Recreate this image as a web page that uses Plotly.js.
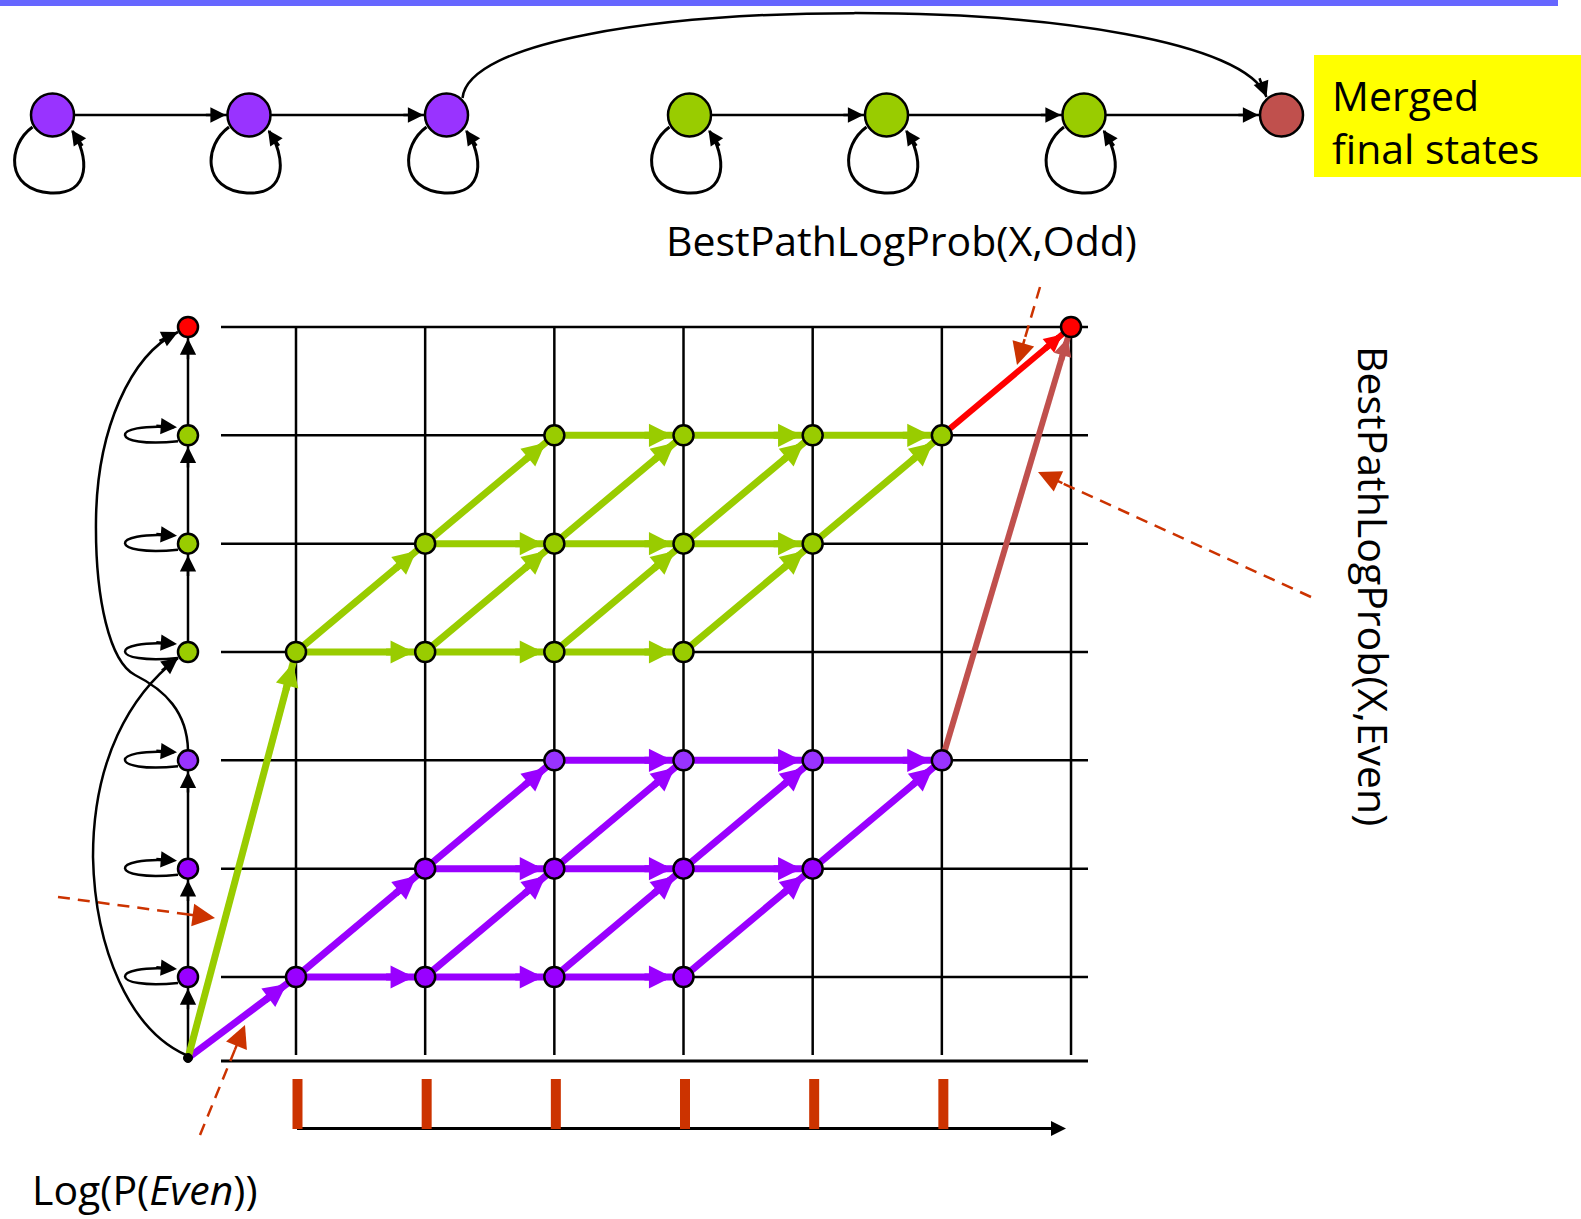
<!DOCTYPE html>
<html><head><meta charset="utf-8">
<script src="https://cdn.plot.ly/plotly-3.0.1.min.js"></script>
<style>html,body{margin:0;padding:0;background:#fff}#chart{width:1581px;height:1219px}</style>
</head><body><div id="chart"></div>
<script>
// ================= DATA =================
// Trellis: frames (time steps) and states (1-3 = Even HMM, 4-6 = Odd HMM, 7 = merged final state)
const frames = [1, 2, 3, 4, 5, 6, 7];
const trellisStates = [1, 2, 3, 4, 5, 6, 7];
const evenNodeFrames = [1, 2, 3, 4, 2, 3, 4, 5, 3, 4, 5, 6];
const evenNodeStates = [1, 1, 1, 1, 2, 2, 2, 2, 3, 3, 3, 3];
const oddNodeFrames = [1, 2, 3, 4, 2, 3, 4, 5, 3, 4, 5, 6];
const oddNodeStates = [4, 4, 4, 4, 5, 5, 5, 5, 6, 6, 6, 6];
const finalNodeFrames = [7];
const finalNodeStates = [7];
// Edges: [fromFrame, fromState, toFrame, toState]; frame 0 / state 0 = start node
const evenEdges = [
  [0, 0, 1, 1],
  [1, 1, 2, 1], [2, 1, 3, 1], [3, 1, 4, 1],
  [1, 1, 2, 2], [2, 1, 3, 2], [3, 1, 4, 2], [4, 1, 5, 2],
  [2, 2, 3, 2], [3, 2, 4, 2], [4, 2, 5, 2],
  [2, 2, 3, 3], [3, 2, 4, 3], [4, 2, 5, 3], [5, 2, 6, 3],
  [3, 3, 4, 3], [4, 3, 5, 3], [5, 3, 6, 3]
];
const oddEdges = [
  [0, 0, 1, 4],
  [1, 4, 2, 4], [2, 4, 3, 4], [3, 4, 4, 4],
  [1, 4, 2, 5], [2, 4, 3, 5], [3, 4, 4, 5], [4, 4, 5, 5],
  [2, 5, 3, 5], [3, 5, 4, 5], [4, 5, 5, 5],
  [2, 5, 3, 6], [3, 5, 4, 6], [4, 5, 5, 6], [5, 5, 6, 6],
  [3, 6, 4, 6], [4, 6, 5, 6], [5, 6, 6, 6]
];
const oddExitEdges = [[6, 6, 7, 7]];
const evenExitEdges = [[6, 3, 7, 7]];
// Left state column (the combined HMM drawn vertically)
const columnStates = [1, 2, 3, 4, 5, 6, 7];
const columnSteps = [[0, 1], [1, 2], [2, 3], [4, 5], [5, 6], [6, 7]];
const columnLoops = [1, 2, 3, 4, 5, 6];
// Observation frames (bottom bars)
const obsFrames = [1, 2, 3, 4, 5, 6];
// Top HMM diagram
const hmmNames = ['E1', 'E2', 'E3', 'O1', 'O2', 'O3', 'F'];
const hmmKinds = ['even', 'even', 'even', 'odd', 'odd', 'odd', 'final'];
const hmmEdges = [[0, 1], [1, 2], [3, 4], [4, 5], [5, 6]];
const hmmLoops = [0, 1, 2, 3, 4, 5];
// Labels
const labelMerged = 'Merged<br>final states';
const labelOdd = 'BestPathLogProb(X,Odd)';
const labelEven = 'BestPathLogProb(X,Even)';
const labelPrior = 'Log(P(<i>Even</i>))';

// ================= LAYOUT GEOMETRY / STYLE =================
const W = 1581, H = 1219;
const PX_T = 129.17, PX_S = 108.333, F1_PX = 296, S1_PX = 977;
const tOf = px => 1 + (px - F1_PX) / PX_T;
const sOf = py => 1 + (S1_PX - py) / PX_S;
const STATE_T = tOf(188), START_S = sOf(1058);
const hmmX = [52.5, 249, 446.5, 689.5, 886.5, 1084, 1281.5], HMM_Y = 115;
const C_EVEN = '#9900FF', C_EVEN_L = '#9933FF', C_ODD = '#99CC00', C_FINAL = '#FF0000',
      C_BROWN = '#C0504D', C_ORANGE = '#CC3300';
const FONT = {family: '"Open Sans", "Noto Sans", sans-serif', size: 41, color: '#000'};
const stateColor = s => s <= 2 ? C_EVEN : s === 3 ? C_EVEN_L : s <= 6 ? C_ODD : C_FINAL;
const hmmColor = k => k === 'even' ? C_EVEN_L : k === 'odd' ? C_ODD : C_BROWN;
const pos = (f, s) => f === 0 ? [STATE_T, START_S] : [f, s];

const traces = [];
const shapes = [];
const annotations = [];

function head(xref, yref, x, y, dx, dy, color, width, size, standoff, extra) {
  const scale = width * size;
  const len = standoff + 5 * scale + 6;
  const n = Math.hypot(dx, dy);
  return Object.assign({
    xref, yref, x, y, ax: -dx / n * len, ay: -dy / n * len, axref: 'pixel', ayref: 'pixel',
    showarrow: true, arrowhead: 2, arrowsize: size, arrowwidth: width, arrowcolor: color,
    standoff: standoff, text: ''
  }, extra || {});
}

// ---- grid ----
(function () {
  const x = [], y = [];
  const tL = tOf(221), tR = tOf(1088);
  trellisStates.forEach(s => { x.push(tL, tR, null); y.push(s, s, null); });
  const sB = sOf(1055);
  frames.forEach(f => { x.push(f, f, null); y.push(7, sB, null); });
  traces.push({type: 'scatter', mode: 'lines', x, y, line: {color: '#000', width: 2.5}, hoverinfo: 'skip'});
  traces.push({type: 'scatter', mode: 'lines', x: [tL, tR], y: [sOf(1061), sOf(1061)],
    line: {color: '#000', width: 3}, hoverinfo: 'skip'});
})();

// ---- bottom observation bars and time arrow ----
(function () {
  const x = [], y = [];
  obsFrames.forEach(f => { x.push(f + 1.5 / PX_T, f + 1.5 / PX_T, null); y.push(sOf(1079), sOf(1129), null); });
  traces.push({type: 'scatter', mode: 'lines', x: [tOf(297), tOf(1060)], y: [sOf(1128.5), sOf(1128.5)],
    line: {color: '#000', width: 3}, hoverinfo: 'skip'});
  traces.push({type: 'scatter', mode: 'lines', x, y, line: {color: C_ORANGE, width: 10}, hoverinfo: 'skip'});
  annotations.push(head('x', 'y', tOf(1066), sOf(1128.5), 1, 0, '#000', 3, 1, 0));
})();

// ---- left column transitions ----
(function () {
  const x = [], y = [];
  columnSteps.forEach(([a, b]) => {
    const pa = a === 0 ? [STATE_T, START_S] : [STATE_T, a];
    x.push(pa[0], STATE_T, null); y.push(pa[1], b, null);
    annotations.push(head('x', 'y', STATE_T, b, 0, -(b - pa[1]) * PX_S, '#000', 2.5, 1.3, 11.5));
  });
  traces.push({type: 'scatter', mode: 'lines', x, y, line: {color: '#000', width: 2.5}, hoverinfo: 'skip'});
  columnLoops.forEach(s => {
    shapes.push({type: 'path', xref: 'x', yref: 'y', xsizemode: 'pixel', ysizemode: 'pixel',
      xanchor: STATE_T, yanchor: s, path: 'M -10 -6 C -80 -13, -80 13, -14 8',
      line: {color: '#000', width: 2.5}});
    annotations.push(head('x', 'y', STATE_T, s, 1, 0.08, '#000', 2.5, 1.3, 0, {xshift: -11, yshift: 8}));
  });
})();

// ---- trellis edges ----
function edgeTrace(edges, color, width, size) {
  const x = [], y = [];
  edges.forEach(([f0, s0, f1, s1]) => {
    const a = pos(f0, s0), b = pos(f1, s1);
    x.push(a[0], b[0], null); y.push(a[1], b[1], null);
    annotations.push(head('x', 'y', b[0], b[1], (b[0] - a[0]) * PX_T, -(b[1] - a[1]) * PX_S,
      color, width, size, 11.5));
  });
  traces.push({type: 'scatter', mode: 'lines', x, y, line: {color, width}, hoverinfo: 'skip'});
}
edgeTrace(evenEdges, C_EVEN, 7, 0.66);
edgeTrace(oddEdges, C_ODD, 7, 0.66);
edgeTrace(oddExitEdges, C_FINAL, 6, 0.6);
edgeTrace(evenExitEdges, C_BROWN, 6, 0.6);

// ---- nodes ----
const nodeLine = {color: '#000', width: 2.5};
traces.push({type: 'scatter', mode: 'markers', x: columnStates.map(() => STATE_T), y: columnStates,
  marker: {size: 20, color: columnStates.map(stateColor), line: nodeLine}, hoverinfo: 'skip'});
traces.push({type: 'scatter', mode: 'markers', x: [STATE_T], y: [START_S],
  marker: {size: 9, color: '#000', line: {color: '#000', width: 1}}, hoverinfo: 'skip'});
traces.push({type: 'scatter', mode: 'markers', x: evenNodeFrames, y: evenNodeStates,
  marker: {size: 20, color: evenNodeStates.map(stateColor), line: nodeLine}, hoverinfo: 'skip'});
traces.push({type: 'scatter', mode: 'markers', x: oddNodeFrames, y: oddNodeStates,
  marker: {size: 20, color: oddNodeStates.map(stateColor), line: nodeLine}, hoverinfo: 'skip'});
traces.push({type: 'scatter', mode: 'markers', x: finalNodeFrames, y: finalNodeStates,
  marker: {size: 20, color: C_FINAL, line: nodeLine}, hoverinfo: 'skip'});

// ---- left column skip curves (pixel overlay) ----
shapes.push({type: 'path', xref: 'x2', yref: 'y2',
  path: 'M 188 750 C 187 712, 165 690, 135 675 C 110 662, 95 600, 96 520 C 97 430, 130 355, 178 332',
  line: {color: '#000', width: 2.5}});
annotations.push(head('x2', 'y2', 178, 332, 48, -23, '#000', 2.5, 1.3, 0));
shapes.push({type: 'path', xref: 'x2', yref: 'y2',
  path: 'M 186 1055 C 130 1030, 95 950, 93 857 C 93 760, 130 695, 178 658',
  line: {color: '#000', width: 2.5}});
annotations.push(head('x2', 'y2', 178, 658, 48, -37, '#000', 2.5, 1.3, 0));

// ---- top HMM ----
(function () {
  const x = [], y = [];
  hmmEdges.forEach(([a, b]) => {
    x.push(hmmX[a], hmmX[b], null); y.push(HMM_Y, HMM_Y, null);
    annotations.push(head('x2', 'y2', hmmX[b], HMM_Y, 1, 0, '#000', 2.5, 1.25, 23));
  });
  traces.push({type: 'scatter', mode: 'lines', x, y, xaxis: 'x2', yaxis: 'y2',
    line: {color: '#000', width: 2.5}, hoverinfo: 'skip'});
  hmmLoops.forEach(i => {
    const cx = hmmX[i], cy = HMM_Y;
    shapes.push({type: 'path', xref: 'x2', yref: 'y2',
      path: `M ${cx - 20} ${cy + 12} C ${cx - 45} ${cy + 30}, ${cx - 48} ${cy + 75}, ${cx - 2} ${cy + 78} ` +
            `C ${cx + 40} ${cy + 80}, ${cx + 36} ${cy + 40}, ${cx + 20} ${cy + 16}`,
      line: {color: '#000', width: 3}});
    annotations.push(head('x2', 'y2', cx + 19, cy + 15, -17, -25, '#000', 3, 1, 0));
  });
  // long skip arc from E3 to the merged final state
  const a = hmmX[2], b = hmmX[6];
  shapes.push({type: 'path', xref: 'x2', yref: 'y2',
    path: `M ${a + 16} 98 C ${a + 28} -15, ${b - 56} -15, ${b - 15} 97`,
    line: {color: '#000', width: 2.5}});
  annotations.push(head('x2', 'y2', b - 15, 97, 30, 80, '#000', 2.5, 1.25, 0));
  traces.push({type: 'scatter', mode: 'markers', x: hmmX, y: hmmX.map(() => HMM_Y), xaxis: 'x2', yaxis: 'y2',
    text: hmmNames, marker: {size: 43, color: hmmKinds.map(hmmColor), line: nodeLine}, hoverinfo: 'skip'});
})();

// ---- orange dashed pointers ----
const pointers = [
  [[58, 897], [215, 918]],
  [[200, 1135], [245, 1025]],
  [[1040, 287], [1017, 365]],
  [[1311, 597], [1038, 472]]
];
pointers.forEach(([p, q]) => {
  const dx = q[0] - p[0], dy = q[1] - p[1], n = Math.hypot(dx, dy);
  const e = [q[0] - dx / n * 12, q[1] - dy / n * 12];
  traces.push({type: 'scatter', mode: 'lines', x: [p[0], e[0]], y: [p[1], e[1]], xaxis: 'x2', yaxis: 'y2',
    line: {color: C_ORANGE, width: 2.5, dash: '12px,8px'}, hoverinfo: 'skip'});
  annotations.push(head('x2', 'y2', q[0], q[1], dx, dy, C_ORANGE, 2.5, 1.8, 0));
});

// ---- decorations & labels ----
shapes.push({type: 'rect', xref: 'x2', yref: 'y2', x0: 0, x1: 1558, y0: 0, y1: 6,
  fillcolor: '#6666FF', line: {width: 0}, layer: 'below'});
shapes.push({type: 'rect', xref: 'x2', yref: 'y2', x0: 1314, x1: 1581, y0: 55, y1: 177,
  fillcolor: '#FFFF00', line: {width: 0}, layer: 'below'});

annotations.push({xref: 'x2', yref: 'y2', x: 1330, y: 121, xanchor: 'left', yanchor: 'middle', align: 'left',
  text: labelMerged, showarrow: false, font: FONT});
annotations.push({xref: 'x2', yref: 'y2', x: 901, y: 240, xanchor: 'center', yanchor: 'middle',
  text: labelOdd, showarrow: false, font: FONT});
annotations.push({xref: 'x2', yref: 'y2', x: 1374, y: 586, xanchor: 'center', yanchor: 'middle', textangle: 90,
  text: labelEven, showarrow: false, font: FONT});
annotations.push({xref: 'x2', yref: 'y2', x: 30, y: 1189, xanchor: 'left', yanchor: 'middle',
  text: labelPrior, showarrow: false, font: FONT});

const layout = {
  width: W, height: H,
  margin: {l: 0, r: 0, t: 0, b: 0, pad: 0},
  paper_bgcolor: '#fff', plot_bgcolor: '#fff',
  showlegend: false, hovermode: false,
  xaxis: {range: [tOf(0), tOf(W)], autorange: false, visible: false, fixedrange: true},
  yaxis: {range: [sOf(H), sOf(0)], autorange: false, visible: false, fixedrange: true},
  xaxis2: {range: [0, W], autorange: false, visible: false, overlaying: 'x', anchor: 'y2', fixedrange: true},
  yaxis2: {range: [H, 0], autorange: false, visible: false, overlaying: 'y', anchor: 'x2', fixedrange: true},
  shapes, annotations
};

Plotly.newPlot('chart', traces, layout, {staticPlot: true, displayModeBar: false});
</script>
</body></html>
